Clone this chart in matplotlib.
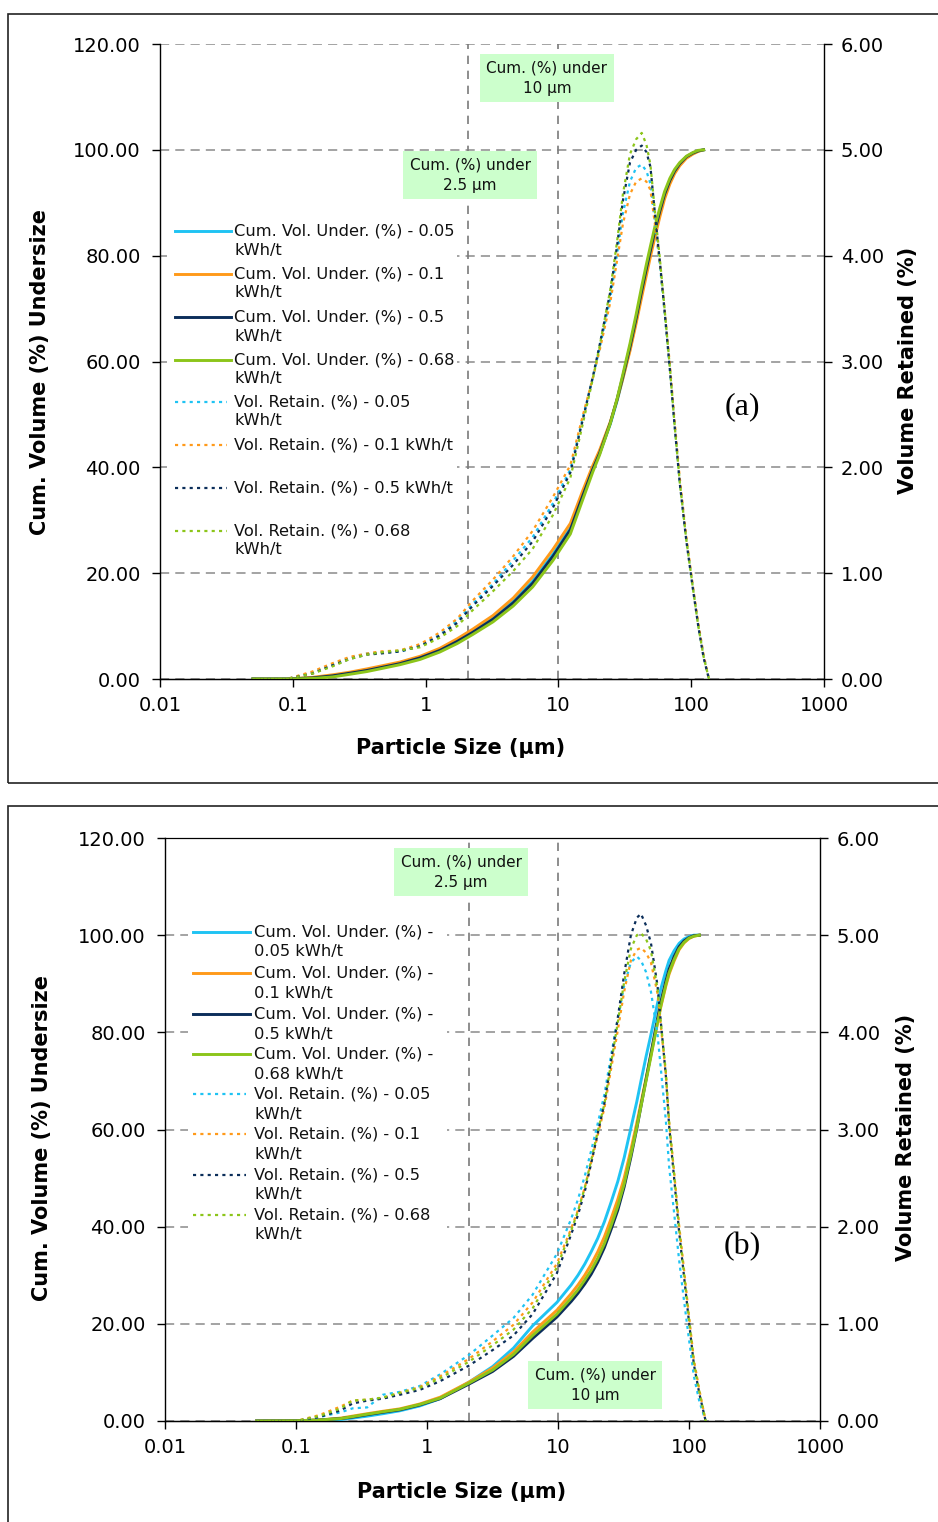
import matplotlib
matplotlib.use('Agg')
import matplotlib.pyplot as plt
from matplotlib.lines import Line2D
from matplotlib.patches import Rectangle
from matplotlib.ticker import NullLocator, FixedLocator, FormatStrFormatter

plt.rcParams['font.family'] = ['DejaVu Sans']

# ---------------- data ----------------
energies = ['0.05', '0.1', '0.5', '0.68']
colors = ['#1FC3F3', '#FF9A1A', '#0B2E5A', '#8CC51A']

# Panel (a)
size_a = [0.05, 0.09, 0.14, 0.2, 0.27, 0.36, 0.45, 0.64, 0.91, 1.28,
          1.73, 2.26, 3.22, 4.57, 6.4, 9.1, 12.3, 15.2, 18.2, 20.4,
          24.6, 27.7, 30.6, 34.6, 38.5, 42.4, 46, 49.3, 53.3, 58,
          63, 69, 75, 82, 92, 103, 113, 124, 136]
cum_a_005 = [0, 0, 0.2, 0.6, 1.1, 1.7, 2.2, 3.0, 4.1, 5.5, 7.3, 9.0, 11.5, 14.7, 18.5, 23.6, 28.6, 34.8, 39.8, 42.6,
             48.2, 52.6, 56.9, 62.4, 67.8, 73.0, 77.2, 80.6, 84.4, 88.1, 91.3, 94.0, 95.8, 97.2, 98.6, 99.3, 99.8, 100]
cum_a_01 = [0, 0, 0.3, 0.8, 1.3, 1.9, 2.4, 3.2, 4.3, 5.8, 7.6, 9.4, 12.0, 15.3, 19.3, 24.5, 29.4, 35.5, 40.4, 43.2,
            48.6, 52.8, 56.8, 62.0, 67.2, 72.2, 76.3, 79.8, 83.5, 87.3, 90.7, 93.5, 95.5, 97.0, 98.4, 99.2, 99.7, 100]
cum_a_05 = [0, 0, 0.2, 0.6, 1.1, 1.6, 2.1, 2.9, 4.0, 5.4, 7.1, 8.8, 11.3, 14.4, 18.1, 23.2, 28.2, 34.5, 39.7, 42.6,
            48.4, 52.9, 57.2, 62.8, 68.2, 73.4, 77.6, 81.0, 84.8, 88.4, 91.6, 94.2, 96.0, 97.4, 98.7, 99.4, 99.8, 100]
cum_a_068 = [0, 0, 0.1, 0.4, 0.9, 1.4, 1.9, 2.7, 3.7, 5.1, 6.7, 8.4, 10.8, 13.8, 17.4, 22.4, 27.4, 33.8, 39.2, 42.3,
             48.3, 53.0, 57.6, 63.4, 68.9, 74.2, 78.4, 81.8, 85.5, 89.0, 92.1, 94.6, 96.3, 97.6, 98.8, 99.5, 99.9, 100]
ret_a_005 = [0, 0, 0.06, 0.14, 0.20, 0.24, 0.25, 0.26, 0.31, 0.42, 0.55, 0.71, 0.90, 1.12, 1.34, 1.66, 1.98, 2.46, 2.85, 3.12,
             3.60, 4.02, 4.40, 4.70, 4.83, 4.86, 4.80, 4.68, 4.32, 3.92, 3.47, 2.94, 2.40, 1.86, 1.31, 0.86, 0.51, 0.22, 0]
ret_a_01 = [0, 0, 0.07, 0.15, 0.21, 0.24, 0.26, 0.27, 0.33, 0.44, 0.57, 0.74, 0.94, 1.16, 1.40, 1.72, 2.02, 2.48, 2.85, 3.10,
            3.56, 3.96, 4.30, 4.58, 4.70, 4.73, 4.70, 4.62, 4.30, 3.94, 3.50, 2.98, 2.44, 1.90, 1.34, 0.88, 0.53, 0.23, 0]
ret_a_05 = [0, 0, 0.05, 0.13, 0.19, 0.23, 0.24, 0.26, 0.31, 0.41, 0.53, 0.69, 0.88, 1.08, 1.30, 1.62, 1.95, 2.44, 2.86, 3.15,
            3.66, 4.10, 4.52, 4.88, 5.00, 5.04, 4.98, 4.84, 4.40, 3.95, 3.48, 2.93, 2.39, 1.85, 1.30, 0.85, 0.50, 0.20, 0]
ret_a_068 = [0, 0, 0.05, 0.12, 0.19, 0.23, 0.25, 0.27, 0.30, 0.39, 0.50, 0.65, 0.83, 1.02, 1.23, 1.55, 1.90, 2.40, 2.84, 3.14,
             3.68, 4.14, 4.58, 4.96, 5.10, 5.16, 5.05, 4.86, 4.42, 3.98, 3.50, 2.95, 2.40, 1.86, 1.31, 0.86, 0.50, 0.21, 0]

# Panel (b)
size_b = [0.05, 0.1, 0.15, 0.22, 0.27, 0.35, 0.46, 0.62, 0.88, 1.26,
          2.09, 3.17, 4.57, 6.4, 9.8, 12.6, 14.2, 16, 17.9, 20.1,
          22.6, 25.4, 28.6, 32, 36, 40, 43, 47, 51.2, 57.5,
          61, 66.5, 70.5, 77, 84, 91.6, 100, 109, 120, 134]
cum_b_005 = [0, 0.03, 0.1, 0.3, 0.6, 1.0, 1.5, 2.1, 3.1, 4.6, 8.0, 11.2, 15.0, 19.6, 24.4, 28.0, 30.0, 32.3, 34.8, 37.6,
             41.0, 45.0, 49.3, 54.2, 60.3, 65.8, 70.0, 75.0, 79.5, 86.0, 89.0, 92.6, 94.8, 96.8, 98.3, 99.2, 99.7, 100, 100]
cum_b_01 = [0, 0.05, 0.2, 0.6, 1.0, 1.5, 2.0, 2.5, 3.5, 4.9, 8.0, 10.9, 14.2, 18.3, 22.8, 26.2, 28.0, 30.0, 32.2, 34.8,
            37.9, 41.6, 45.6, 50.0, 55.8, 61.4, 65.5, 70.5, 75.3, 82.0, 85.3, 89.5, 92.0, 94.7, 97.0, 98.4, 99.3, 99.8, 100]
cum_b_05 = [0, 0.05, 0.2, 0.5, 0.8, 1.3, 1.8, 2.3, 3.3, 4.6, 7.6, 10.2, 13.3, 17.0, 21.4, 24.6, 26.3, 28.2, 30.2, 32.7,
            35.7, 39.4, 43.4, 48.2, 54.3, 60.3, 64.8, 70.3, 75.6, 82.8, 86.3, 90.5, 93.0, 95.6, 97.6, 98.8, 99.5, 99.9, 100]
cum_b_068 = [0, 0.05, 0.2, 0.5, 0.9, 1.4, 1.9, 2.4, 3.4, 4.7, 7.8, 10.5, 13.7, 17.6, 22.0, 25.3, 27.0, 29.0, 31.0, 33.5,
             36.5, 40.2, 44.2, 48.8, 54.8, 60.5, 64.8, 70.0, 75.0, 82.0, 85.5, 89.8, 92.3, 95.0, 97.2, 98.5, 99.4, 99.8, 100]
ret_b_005 = [0, 0, 0.04, 0.09, 0.13, 0.14, 0.27, 0.30, 0.36, 0.48, 0.68, 0.88, 1.06, 1.30, 1.72, 2.08, 2.28, 2.52, 2.78, 3.06,
             3.36, 3.76, 4.14, 4.48, 4.72, 4.78, 4.74, 4.62, 4.42, 3.98, 3.62, 3.10, 2.62, 2.14, 1.66, 1.24, 0.84, 0.46, 0.20, 0]
ret_b_01 = [0, 0, 0.06, 0.15, 0.21, 0.22, 0.24, 0.29, 0.35, 0.46, 0.64, 0.82, 0.99, 1.22, 1.62, 1.98, 2.17, 2.40, 2.66, 2.94,
            3.22, 3.62, 4.02, 4.42, 4.74, 4.85, 4.87, 4.82, 4.72, 4.40, 4.06, 3.58, 3.08, 2.56, 2.02, 1.56, 1.08, 0.63, 0.32, 0]
ret_b_05 = [0, 0, 0.04, 0.11, 0.18, 0.21, 0.23, 0.27, 0.32, 0.41, 0.57, 0.73, 0.88, 1.10, 1.52, 1.92, 2.12, 2.36, 2.65, 2.96,
            3.27, 3.70, 4.15, 4.60, 5.00, 5.18, 5.22, 5.10, 4.92, 4.48, 4.10, 3.56, 3.04, 2.50, 1.95, 1.49, 1.02, 0.58, 0.28, 0]
ret_b_068 = [0, 0, 0.05, 0.13, 0.21, 0.22, 0.24, 0.29, 0.34, 0.44, 0.61, 0.78, 0.94, 1.16, 1.58, 1.96, 2.16, 2.40, 2.68, 2.98,
             3.26, 3.68, 4.10, 4.52, 4.86, 5.00, 5.02, 4.96, 4.84, 4.45, 4.10, 3.60, 3.08, 2.54, 1.98, 1.52, 1.05, 0.60, 0.30, 0]

ref_sizes = [2.08, 10]
xticks = [0.01, 0.1, 1, 10, 100, 1000]
xticklabels = ['0.01', '0.1', '1', '10', '100', '1000']
left_ticks = [0, 20, 40, 60, 80, 100, 120]
right_ticks = [0, 1, 2, 3, 4, 5, 6]

labels_a = ['Cum. Vol. Under. (%) - 0.05\nkWh/t', 'Cum. Vol. Under. (%) - 0.1\nkWh/t',
            'Cum. Vol. Under. (%) - 0.5\nkWh/t', 'Cum. Vol. Under. (%) - 0.68\nkWh/t',
            'Vol. Retain. (%) - 0.05\nkWh/t', 'Vol. Retain. (%) - 0.1 kWh/t',
            'Vol. Retain. (%) - 0.5 kWh/t', 'Vol. Retain. (%) - 0.68\nkWh/t']
labels_b = ['Cum. Vol. Under. (%) -\n0.05 kWh/t', 'Cum. Vol. Under. (%) -\n0.1 kWh/t',
            'Cum. Vol. Under. (%) -\n0.5 kWh/t', 'Cum. Vol. Under. (%) -\n0.68 kWh/t',
            'Vol. Retain. (%) - 0.05\nkWh/t', 'Vol. Retain. (%) - 0.1\nkWh/t',
            'Vol. Retain. (%) - 0.5\nkWh/t', 'Vol. Retain. (%) - 0.68\nkWh/t']

# ---------------- figure ----------------
W, H = 938, 1522
fig = plt.figure(figsize=(W / 100, H / 100), dpi=100)


def fx(x):
    return x / W


def fy(y):
    return 1 - y / H


GRID = '#8a8a8a'
SOLID_LW = 2.1
DOT_LW = 1.6
DOT_LS = (0, (1.4, 1.9))


def panel(box, size, cums, rets, top_spine):
    l, t, r, b = box
    ax = fig.add_axes([fx(l), fy(b), (r - l) / W, (b - t) / H])
    ax.set_xscale('log')
    ax.set_xlim(0.01, 1000)
    ax.set_ylim(0, 120)
    ax.xaxis.set_major_locator(FixedLocator(xticks))
    ax.set_xticklabels(xticklabels)
    ax.xaxis.set_minor_locator(NullLocator())
    ax.set_yticks(left_ticks)
    ax.yaxis.set_major_formatter(FormatStrFormatter('%.2f'))
    ax.yaxis.grid(True, color=GRID, linestyle=(0, (6, 4)), linewidth=1.1)
    ax.set_axisbelow(True)
    ax.tick_params(labelsize=14, length=6, width=1, pad=8, color='black')
    ax.tick_params(axis='x', pad=6)
    for s in ['left', 'bottom']:
        ax.spines[s].set_linewidth(1.0)
    ax.spines['top'].set_visible(top_spine)
    ax.spines['right'].set_visible(False)
    for xv in ref_sizes:
        ax.axvline(xv, color='#7a7a7a', linestyle=(0, (5, 4)), linewidth=1.2, zorder=1)
    xs_c = size[:len(cums[0])]
    for c, y in zip(colors, cums):
        ax.plot(xs_c, y, color=c, lw=SOLID_LW, solid_joinstyle='round', zorder=3)

    ax2 = ax.twinx()
    ax2.set_ylim(0, 6)
    ax2.set_yticks(right_ticks)
    ax2.yaxis.set_major_formatter(FormatStrFormatter('%.2f'))
    ax2.tick_params(labelsize=14, length=6, width=1, pad=6)
    ax2.spines['right'].set_linewidth(1.0)
    ax2.spines['top'].set_visible(top_spine)
    ax2.spines['left'].set_visible(False)
    for c, y in zip(colors, rets):
        ax2.plot(size, y, color=c, lw=DOT_LW, linestyle=DOT_LS)
    return ax, ax2


def legend(x_h0, x_h1, x_t, ys, labels, pitch, rect):
    rx0, ry0, rx1, ry1 = rect
    fig.add_artist(Rectangle((fx(rx0), fy(ry1)), (rx1 - rx0) / W, (ry1 - ry0) / H,
                             transform=fig.transFigure, facecolor='white', edgecolor='none'))
    for i, (y, lab) in enumerate(zip(ys, labels)):
        if i < 4:
            ln = Line2D([fx(x_h0), fx(x_h1)], [fy(y), fy(y)], transform=fig.transFigure,
                        color=colors[i], lw=SOLID_LW)
        else:
            ln = Line2D([fx(x_h0), fx(x_h1 - 4)], [fy(y), fy(y)], transform=fig.transFigure,
                        color=colors[i - 4], lw=DOT_LW, linestyle=DOT_LS)
        fig.add_artist(ln)
        for k, line in enumerate(lab.split('\n')):
            fig.text(fx(x_t), fy(y + k * pitch), line, fontsize=11.7, ha='left', va='center',
                     color='#111111')


def note(cx, cy, txt):
    fig.text(fx(cx), fy(cy), txt, fontsize=11, ha='center', va='center', multialignment='center',
             linespacing=1.45, color='#111111',
             bbox=dict(boxstyle='square,pad=0.4', facecolor='#CCFFCC', edgecolor='none'))


# panel borders
fig.add_artist(Rectangle((fx(8), fy(783)), (950 - 8) / W, (783 - 14) / H, transform=fig.transFigure,
                         fill=False, edgecolor='#222222', lw=1.2))
fig.add_artist(Rectangle((fx(8), fy(1535)), (950 - 8) / W, (1535 - 806) / H, transform=fig.transFigure,
                         fill=False, edgecolor='#222222', lw=1.2))

# ---- panel (a)
panel((160, 44, 824, 679), size_a,
      [cum_a_005, cum_a_01, cum_a_05, cum_a_068],
      [ret_a_005, ret_a_01, ret_a_05, ret_a_068], top_spine=False)
legend(175, 231, 234, [231, 274, 317, 360, 402, 445, 488, 531], labels_a, 19, (167, 218, 457, 562))
note(547, 78, 'Cum. (%) under\n10 µm')
note(470, 175, 'Cum. (%) under\n2.5 µm')
fig.text(fx(742), fy(407), '(a)', family='Liberation Serif', fontsize=23, ha='center', va='center')
fig.text(fx(40), fy(372), 'Cum. Volume (%) Undersize', rotation=90, fontsize=15, fontweight='bold',
         ha='center', va='center')
fig.text(fx(908), fy(370), 'Volume Retained (%)', rotation=90, fontsize=15, fontweight='bold',
         ha='center', va='center')
fig.text(fx(461), fy(748), 'Particle Size (µm)', fontsize=15, fontweight='bold', ha='center', va='center')

# ---- panel (b)
panel((165, 838, 820, 1421), size_b,
      [cum_b_005, cum_b_01, cum_b_05, cum_b_068],
      [ret_b_005, ret_b_01, ret_b_05, ret_b_068], top_spine=True)
legend(193, 250, 254, [932, 973, 1014, 1054, 1094, 1134, 1175, 1215], labels_b, 20, (188, 918, 447, 1247))
note(461, 872, 'Cum. (%) under\n2.5 µm')
note(595, 1385, 'Cum. (%) under\n10 µm')
fig.text(fx(742), fy(1247), '(b)', family='Liberation Serif', fontsize=23, ha='center', va='center')
fig.text(fx(42), fy(1138), 'Cum. Volume (%) Undersize', rotation=90, fontsize=15, fontweight='bold',
         ha='center', va='center')
fig.text(fx(906), fy(1137), 'Volume Retained (%)', rotation=90, fontsize=15, fontweight='bold',
         ha='center', va='center')
fig.text(fx(462), fy(1492), 'Particle Size (µm)', fontsize=15, fontweight='bold', ha='center', va='center')

fig.savefig('out.png', dpi=100, facecolor='white')
